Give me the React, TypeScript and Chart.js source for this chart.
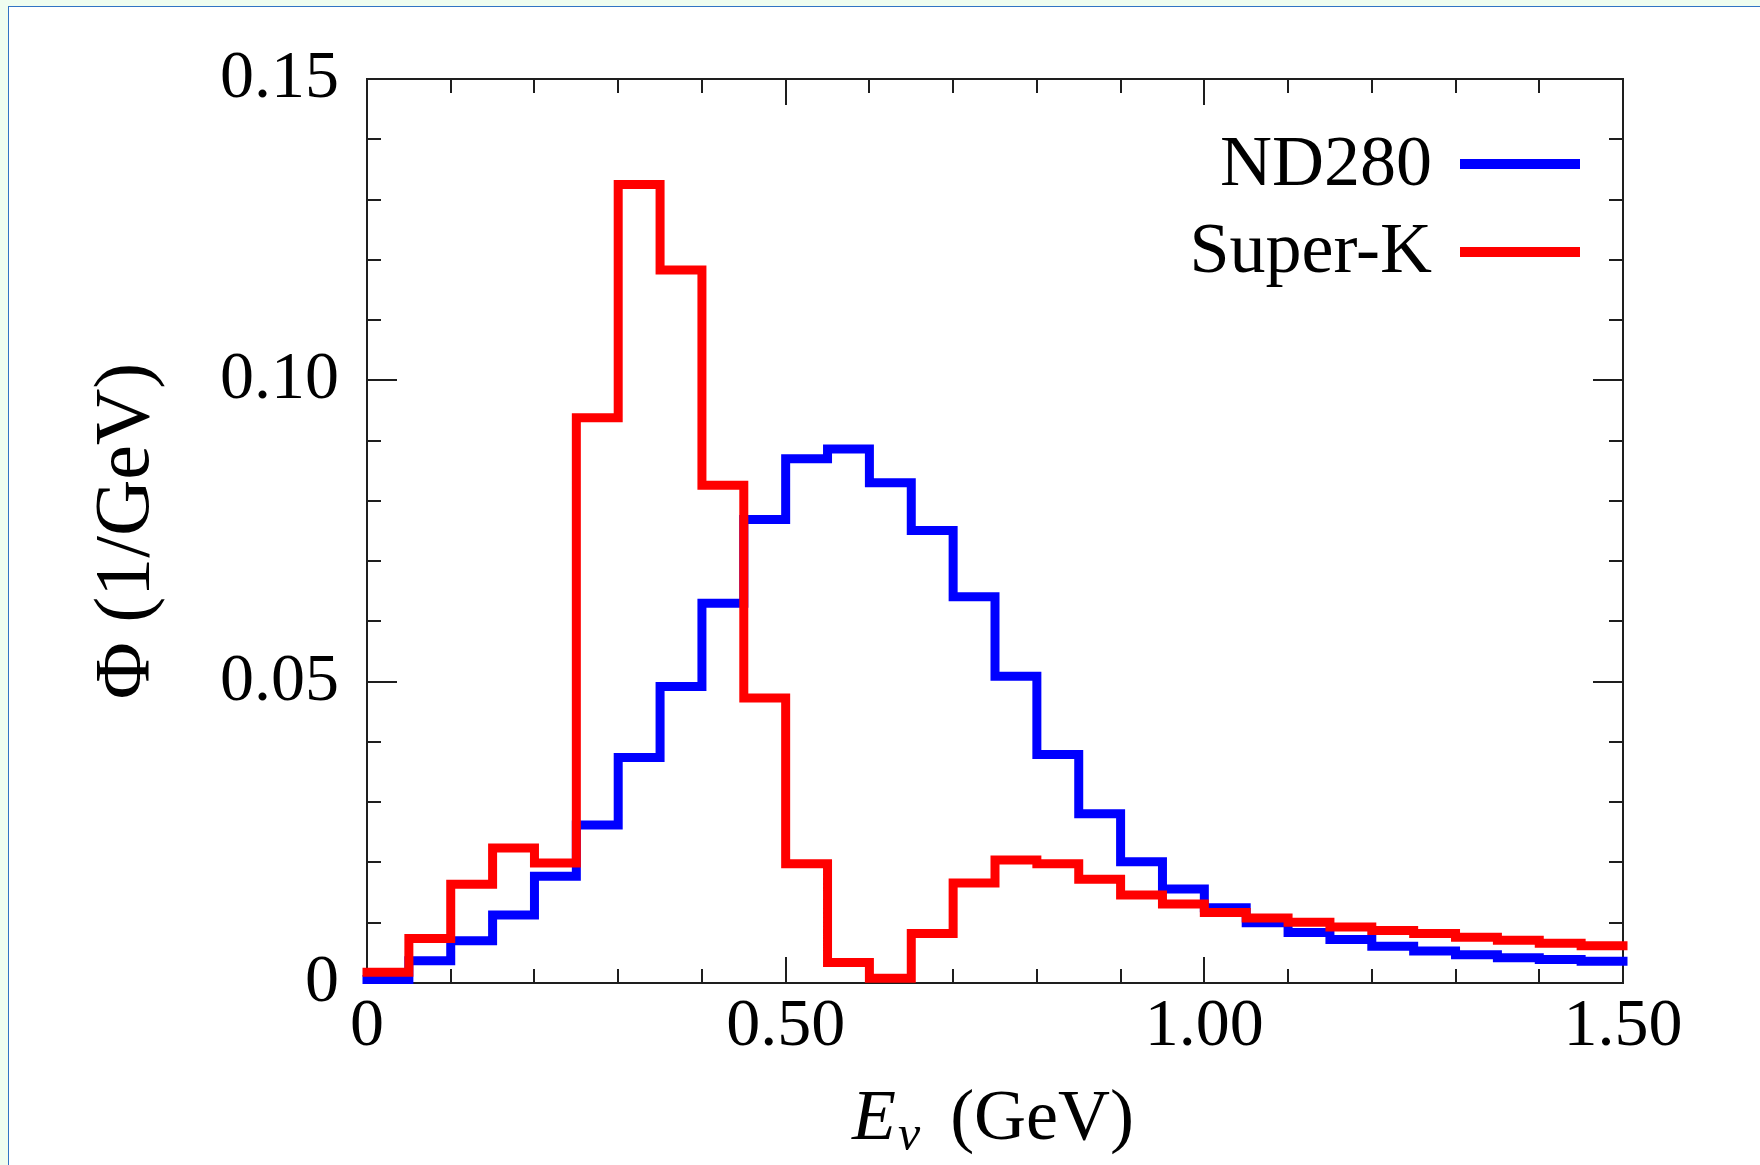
import React, { useEffect, useRef } from 'react';
import { Chart, registerables } from 'chart.js';

Chart.register(...registerables);

// ---- data ----
const binEdges = [
  0, 0.05, 0.1, 0.15, 0.2, 0.25, 0.3, 0.35, 0.4, 0.45, 0.5, 0.55, 0.6, 0.65, 0.7, 0.75,
  0.8, 0.85, 0.9, 0.95, 1.0, 1.05, 1.1, 1.15, 1.2, 1.25, 1.3, 1.35, 1.4, 1.45, 1.5,
];

const nd280Flux = [
  0.0006, 0.0037, 0.007, 0.0113, 0.0177, 0.0262, 0.0374, 0.0492, 0.063, 0.0769,
  0.087, 0.0886, 0.083, 0.0751, 0.0641, 0.0509, 0.0379, 0.0281, 0.0201, 0.0156,
  0.0125, 0.01, 0.0084, 0.0072, 0.0061, 0.0053, 0.0047, 0.0042, 0.0039, 0.0036,
];

const superKFlux = [
  0.0018, 0.0074, 0.0164, 0.0224, 0.0199, 0.0938, 0.1325, 0.1183, 0.0826, 0.0473,
  0.0198, 0.0034, 0.0008, 0.0082, 0.0166, 0.0204, 0.0198, 0.0172, 0.0146, 0.0131,
  0.0117, 0.0108, 0.0101, 0.0093, 0.0087, 0.0082, 0.0076, 0.0071, 0.0066, 0.0062,
];

const seriesNames = ['ND280', 'Super-K'];
const seriesColors = ['#0000ff', '#ff0000'];

const xTickValues = [0, 0.5, 1.0, 1.5];
const xTickLabels = ['0', '0.50', '1.00', '1.50'];
const yTickValues = [0, 0.05, 0.1, 0.15];
const yTickLabels = ['0', '0.05', '0.10', '0.15'];

const yTitle = 'Φ (1/GeV)';
const xTitleMain = 'E';
const xTitleSub = 'ν';
const xTitleUnit = '(GeV)';

const SERIF = '"Liberation Serif", "Times New Roman", serif';

function toSteps(values: number[]) {
  const pts = values.map((v, i) => ({ x: binEdges[i], y: v }));
  pts.push({ x: binEdges[values.length], y: values[values.length - 1] });
  return pts;
}

function labelFor(value: number, vals: number[], labels: string[]) {
  for (let i = 0; i < vals.length; i++) {
    if (Math.abs(value - vals[i]) < 1e-6) return labels[i];
  }
  return '';
}

const framePlugin = {
  id: 'frameTicks',
  beforeDatasetsDraw(chart: any) {
    const { ctx, chartArea } = chart;
    const { left, right, top, bottom } = chartArea;
    const xs = chart.scales.x;
    const ys = chart.scales.y;
    ctx.save();
    ctx.strokeStyle = '#1e1e1e';
    ctx.lineWidth = 2;
    ctx.lineCap = 'butt';
    ctx.strokeRect(left, top, right - left, bottom - top);
    ctx.beginPath();
    xs.ticks.forEach((t: any) => {
      const px = Math.round(xs.getPixelForValue(t.value));
      const major = labelFor(t.value, xTickValues, xTickLabels) !== '';
      const len = major ? 26 : 14;
      ctx.moveTo(px, bottom);
      ctx.lineTo(px, bottom - len);
      ctx.moveTo(px, top);
      ctx.lineTo(px, top + len);
    });
    ys.ticks.forEach((t: any) => {
      const py = Math.round(ys.getPixelForValue(t.value));
      const major = labelFor(t.value, yTickValues, yTickLabels) !== '';
      const len = major ? 30 : 14;
      ctx.moveTo(left, py);
      ctx.lineTo(left + len, py);
      ctx.moveTo(right, py);
      ctx.lineTo(right - len, py);
    });
    ctx.stroke();
    ctx.restore();
  },
};

const legendAndTitlePlugin = {
  id: 'legendAndTitle',
  afterDraw(chart: any) {
    const { ctx, chartArea } = chart;
    const { left, right, top, bottom } = chartArea;
    ctx.save();
    // legend: text right-aligned, line sample on the right
    const rows = [
      { text: top + 106, line: top + 85 },
      { text: top + 193, line: top + 173 },
    ];
    chart.data.datasets.forEach((ds: any, i: number) => {
      const r = rows[i];
      ctx.font = `72px ${SERIF}`;
      ctx.fillStyle = '#000';
      ctx.textAlign = 'right';
      ctx.textBaseline = 'alphabetic';
      ctx.fillText(ds.label, right - 191, r.text);
      ctx.strokeStyle = ds.borderColor;
      ctx.lineWidth = 10;
      ctx.lineCap = 'butt';
      ctx.beginPath();
      ctx.moveTo(right - 163, r.line);
      ctx.lineTo(right - 43, r.line);
      ctx.stroke();
    });

    // x-axis title with subscript
    const fMain = `italic 72px ${SERIF}`;
    const fSub = `italic 50px ${SERIF}`;
    const fUnit = `72px ${SERIF}`;
    ctx.font = fMain;
    const wE = ctx.measureText(xTitleMain).width;
    ctx.font = fSub;
    const wNu = ctx.measureText(xTitleSub).width;
    ctx.font = fUnit;
    const wU = ctx.measureText(xTitleUnit).width;
    const gap = 30;
    const total = wE + 2 + wNu + gap + wU;
    const cx = (left + right) / 2 - 2;
    const base = bottom + 156;
    let x0 = cx - total / 2;
    ctx.textAlign = 'left';
    ctx.textBaseline = 'alphabetic';
    ctx.fillStyle = '#000';
    ctx.font = fMain;
    ctx.fillText(xTitleMain, x0, base);
    x0 += wE + 2;
    ctx.font = fSub;
    ctx.fillText(xTitleSub, x0, base + 11);
    x0 += wNu + gap;
    ctx.font = fUnit;
    ctx.fillText(xTitleUnit, x0, base);
    ctx.restore();
  },
};

export default function App() {
  const canvasRef = useRef<HTMLCanvasElement | null>(null);

  useEffect(() => {
    const canvas = canvasRef.current;
    if (!canvas) return;
    const chart = new Chart(canvas, {
      type: 'line',
      data: {
        datasets: [
          {
            label: seriesNames[0],
            data: toSteps(nd280Flux),
            borderColor: seriesColors[0],
            backgroundColor: seriesColors[0],
            borderWidth: 9,
            stepped: true,
            pointRadius: 0,
            fill: false,
            order: 1,
            borderCapStyle: 'square',
            borderJoinStyle: 'miter',
            clip: false,
          },
          {
            label: seriesNames[1],
            data: toSteps(superKFlux),
            borderColor: seriesColors[1],
            backgroundColor: seriesColors[1],
            borderWidth: 9,
            stepped: true,
            pointRadius: 0,
            fill: false,
            order: 0,
            borderCapStyle: 'square',
            borderJoinStyle: 'miter',
            clip: false,
          },
        ],
      },
      options: {
        responsive: false,
        animation: false,
        events: [],
        layout: { padding: { left: 0, top: 79, right: 137, bottom: 0 } },
        plugins: {
          legend: { display: false },
          tooltip: { enabled: false },
          title: { display: false },
        },
        scales: {
          x: {
            type: 'linear',
            min: 0,
            max: 1.5,
            afterFit: (s: any) => {
              s.height = 182;
            },
            grid: { display: false, drawTicks: false },
            border: { display: false },
            ticks: {
              stepSize: 0.1,
              autoSkip: false,
              maxRotation: 0,
              padding: 3,
              color: '#000',
              font: { family: SERIF, size: 68 },
              callback: (v: any) => labelFor(Number(v), xTickValues, xTickLabels),
            },
          },
          y: {
            type: 'linear',
            min: 0,
            max: 0.15,
            afterFit: (s: any) => {
              s.width = 367;
            },
            grid: { display: false, drawTicks: false },
            border: { display: false },
            ticks: {
              stepSize: 0.01,
              autoSkip: false,
              padding: 28,
              color: '#000',
              font: { family: SERIF, size: 68 },
              callback: (v: any) => labelFor(Number(v), yTickValues, yTickLabels),
            },
            title: {
              display: true,
              text: yTitle,
              color: '#000',
              font: { family: SERIF, size: 78 },
              padding: { top: 81, bottom: 0 },
            },
          },
        },
      },
      plugins: [framePlugin, legendAndTitlePlugin],
    } as any);
    return () => chart.destroy();
  }, []);

  return (
    <>
      <div
        style={{
          position: 'fixed',
          left: 0,
          top: 0,
          width: 1760,
          height: 1165,
          background: '#effdf0',
        }}
      />
      <div
        style={{
          position: 'fixed',
          left: 8,
          top: 6,
          width: 1800,
          height: 1200,
          background: '#ffffff',
          border: '1px solid #3274c4',
        }}
      />
      <div style={{ position: 'fixed', left: 0, top: 0, width: 1760, height: 1165 }}>
        <canvas ref={canvasRef} width={1760} height={1165} style={{ display: 'block' }} />
      </div>
    </>
  );
}
